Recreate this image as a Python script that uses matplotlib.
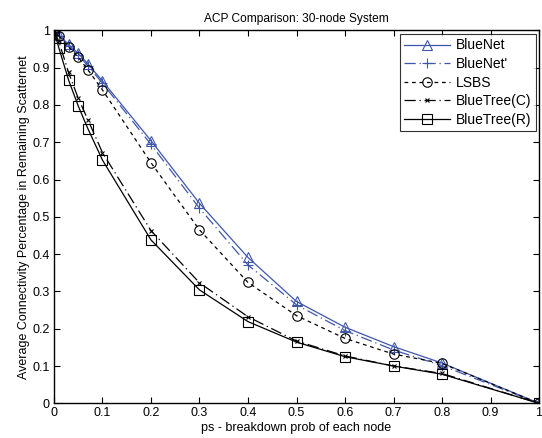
import matplotlib
matplotlib.use("Agg")
import matplotlib.pyplot as plt

plt.rcParams['font.family'] = ['Liberation Sans', 'DejaVu Sans']

ps = [0, 0.01, 0.03, 0.05, 0.07, 0.1, 0.2, 0.3, 0.4, 0.5, 0.6, 0.7, 0.8, 1.0]
bluenet = [1.0, 0.988, 0.962, 0.938, 0.91, 0.864, 0.704, 0.536, 0.391, 0.273, 0.204, 0.152, 0.108, 0.0]
bluenet_p = [1.0, 0.985, 0.958, 0.933, 0.905, 0.858, 0.694, 0.523, 0.371, 0.264, 0.195, 0.143, 0.101, 0.0]
lsbs = [1.0, 0.985, 0.956, 0.928, 0.894, 0.84, 0.645, 0.465, 0.324, 0.235, 0.174, 0.132, 0.107, 0.0]
bluetree_c = [1.0, 0.97, 0.887, 0.818, 0.76, 0.672, 0.463, 0.323, 0.232, 0.167, 0.127, 0.1, 0.08, 0.0]
bluetree_r = [1.0, 0.953, 0.867, 0.797, 0.736, 0.652, 0.438, 0.304, 0.219, 0.164, 0.125, 0.1, 0.078, 0.0]

title = "ACP Comparison: 30-node System"
xlabel = "ps - breakdown prob of each node"
ylabel = "Average Connectivity Percentage in Remaining Scatternet"
xticks = [0, 0.1, 0.2, 0.3, 0.4, 0.5, 0.6, 0.7, 0.8, 0.9, 1]
xticklabels = ["0", "0.1", "0.2", "0.3", "0.4", "0.5", "0.6", "0.7", "0.8", "0.9", "1"]
yticks = [0, 0.1, 0.2, 0.3, 0.4, 0.5, 0.6, 0.7, 0.8, 0.9, 1]
yticklabels = ["0", "0.1", "0.2", "0.3", "0.4", "0.5", "0.6", "0.7", "0.8", "0.9", "1"]

blue = '#3f56ad'
fig = plt.figure(figsize=(5.42, 4.38), dpi=100)
ax = fig.add_axes([0.0996, 0.0792, 0.8949, 0.8516])

lw = 0.9
ms = 6.8
ax.plot(ps, bluenet, color=blue, lw=lw, ls='-', marker='^', ms=ms, mfc='none', mec=blue, mew=0.8, label='BlueNet')
ax.plot(ps, bluenet_p, color=blue, lw=lw, ls=(0, (9, 3, 1, 3)), marker='+', ms=ms, mec=blue, mew=0.8, label="BlueNet'")
ax.plot(ps, lsbs, color='black', lw=lw, ls=(0, (3, 3)), marker='o', ms=ms, mfc='none', mec='black', mew=0.8, label='LSBS')
ax.plot(ps, bluetree_c, color='black', lw=lw, ls=(0, (9, 3, 1, 3)), marker='x', ms=3.5, mec='black', mew=0.8, label='BlueTree(C)')
ax.plot(ps, bluetree_r, color='black', lw=lw, ls='-', marker='s', ms=ms, mfc='none', mec='black', mew=0.8, label='BlueTree(R)')

ax.set_xlim(0, 1)
ax.set_ylim(0, 1)
ax.set_xticks(xticks)
ax.set_xticklabels(xticklabels)
ax.set_yticks(yticks)
ax.set_yticklabels(yticklabels)
ax.tick_params(direction='in', top=True, right=True, labelsize=9, length=4, width=0.8, pad=3)
for s in ax.spines.values():
    s.set_linewidth(1.0)

ax.set_title(title, fontsize=8.6, pad=6)
ax.set_xlabel(xlabel, fontsize=9, labelpad=2)
ax.set_ylabel(ylabel, fontsize=9, labelpad=2)

leg = ax.legend(loc='upper right', bbox_to_anchor=(535.7/542, 1 - 34.3/438), bbox_transform=fig.transFigure,
                fontsize=10, handlelength=3.3, frameon=True, fancybox=False, edgecolor='black',
                borderpad=0.3, labelspacing=0.33, handletextpad=0.45, borderaxespad=0)
leg.get_frame().set_linewidth(0.8)

fig.savefig('out.png', dpi=100)
